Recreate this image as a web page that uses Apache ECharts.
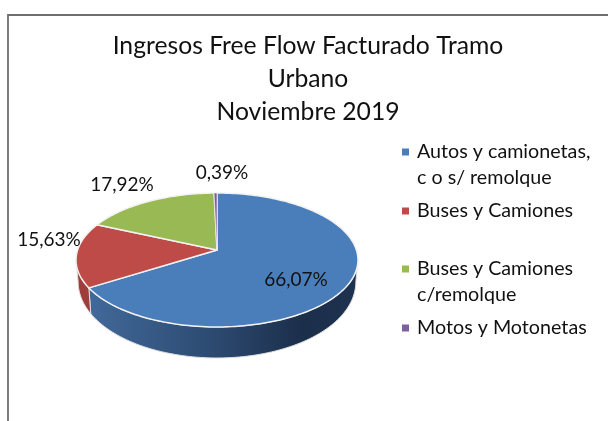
<!DOCTYPE html>
<html><head><meta charset="utf-8">
<style>html,body{margin:0;padding:0;background:#fff}#c{width:608px;height:421px}</style>
<script src="https://cdn.jsdelivr.net/npm/echarts@6/dist/echarts.min.js"></script>
</head><body><div id="c"></div>
<script>
const titleLines = ['Ingresos Free Flow Facturado Tramo', 'Urbano', 'Noviembre 2019'];
const categories = ['Autos y camionetas, c o s/ remolque', 'Buses y Camiones', 'Buses y Camiones c/remolque', 'Motos y Motonetas'];
const legendLines = [['Autos y camionetas,', 'c o s/ remolque'], ['Buses y Camiones'], ['Buses y Camiones', 'c/remolque'], ['Motos y Motonetas']];
const values = [66.07, 15.63, 17.92, 0.39];
const colors = ['#4a7ebb', '#be4b48', '#98b954', '#7d60a0'];

const FONT = 'Lato';
const apex = [217, 250], A = 139.4, B = 65.5, K = 0.149;
const labelCenters = [[296, 280], [49, 240], [122, 185], [222, 173]];
const legendMarkerY = [152, 211, 269, 328];
const wallFill = [
  {type:'linear',x:0,y:0,x2:1,y2:0,colorStops:[{offset:0,color:'#41699a'},{offset:0.45,color:'#2d4b72'},{offset:0.8,color:'#1b2e4a'},{offset:1,color:'#1e3350'}]},
  '#9e3d3a', '#7c9a40', '#64487f'
];
const total = values.reduce((a, b) => a + b, 0);
const rad = d => d * Math.PI / 180;
function rim(t) {
  const s = Math.sin(t), c = Math.cos(t), w = 1 + K * c;
  return [apex[0] + A * s / w, apex[1] - B * c / w];
}
function lowerRim(t) {
  const p = rim(t), c = Math.cos(t);
  return [apex[0] + (p[0] - apex[0]) * 0.985, p[1] + 20 + 11 * Math.max(0, -c)];
}
function arc(a, b, f) {
  const out = [], n = Math.max(2, Math.ceil(Math.abs(b - a) / rad(1.5)));
  for (let i = 0; i <= n; i++) out.push(f(a + (b - a) * i / n));
  return out;
}
const wallA = rad(98.6), wallB = rad(261.4);
function makeRender(idx) {
  return function (params, api) {
    const before = values.slice(0, idx).reduce((a, b) => a + b, 0);
    const t0 = rad(before / total * 360);
    const t1 = rad((before + api.value(0)) / total * 360);
    const children = [];
    const w0 = Math.max(t0, wallA), w1 = Math.min(t1, wallB);
    if (w1 > w0) {
      children.push({
        type: 'polygon', z2: 1,
        shape: { points: arc(w0, w1, rim).concat(arc(w1, w0, lowerRim)) },
        style: { fill: wallFill[idx], stroke: '#dedede', lineWidth: 1 }
      });
    }
    children.push({
      type: 'polygon', z2: 2,
      shape: { points: [apex].concat(arc(t0, t1, rim)) },
      style: { fill: colors[idx], stroke: '#f2f2f2', lineWidth: idx === 3 ? 0.6 : 1.5, lineJoin: 'round' }
    });
    children.push({
      type: 'text', z2: 3,
      style: {
        x: labelCenters[idx][0], y: labelCenters[idx][1],
        text: api.value(0).toFixed(2).replace('.', ',') + '%',
        font: '19px ' + FONT, fill: '#111', align: 'center', verticalAlign: 'middle'
      }
    });
    return { type: 'group', children };
  };
}
const option = {
  animation: false,
  backgroundColor: '#fff',
  title: {
    text: titleLines.join('\n'), left: 303, top: 25, textAlign: 'center',
    textStyle: { fontFamily: FONT, fontSize: 24.7, fontWeight: 'normal', color: '#111', lineHeight: 33 }
  },
  graphic: [{
    type: 'polyline', silent: true,
    shape: { points: [[8, 430], [8, 15], [620, 15]] },
    style: { fill: null, stroke: '#6e6e6e', lineWidth: 1.8 }
  }],
  legend: categories.map((name, i) => ({
    data: [name], left: 402, top: legendMarkerY[i] - 39, orient: 'vertical',
    selectedMode: false, icon: 'rect', itemWidth: 7, itemHeight: 7, itemGap: 0, padding: 0,
    formatter: () => {
      const l = legendLines[i];
      return '\n' + l.join('\n') + (l.length === 1 ? '\n' : '');
    },
    textStyle: { fontFamily: FONT, fontSize: 19.7, color: '#111', lineHeight: 26, padding: [0, 0, 0, 3] }
  })),
  series: categories.map((name, i) => ({
    type: 'custom', name, coordinateSystem: 'none',
    itemStyle: { color: colors[i] },
    renderItem: makeRender(i),
    data: [[values[i]]],
    silent: true
  }))
};
echarts.init(document.getElementById('c'), null, { renderer: 'canvas' }).setOption(option);
</script></body></html>
